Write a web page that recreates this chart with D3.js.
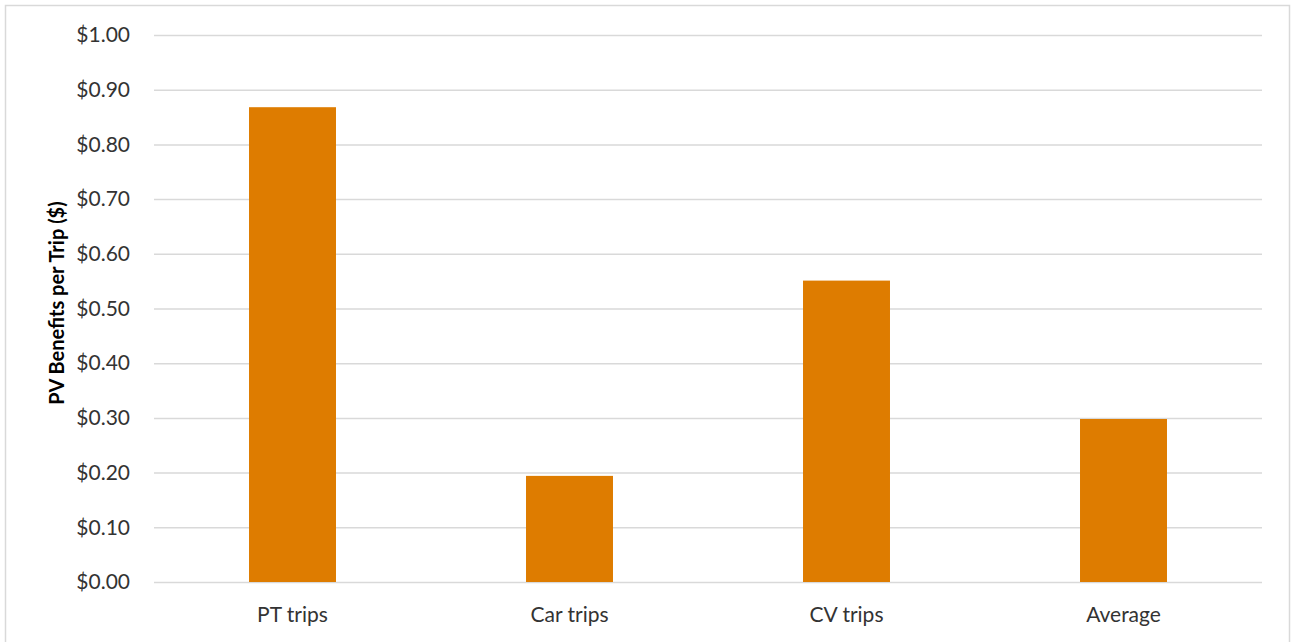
<!DOCTYPE html>
<html>
<head>
<meta charset="utf-8">
<script src="https://cdn.jsdelivr.net/npm/d3@7"></script>
<style>
  body { margin: 0; background: #fff; }
  text { font-family: Lato, "Open Sans", sans-serif; }
</style>
</head>
<body>
<div id="container"></div>
<script>
const categories = ["PT trips", "Car trips", "CV trips", "Average"];
const values = [0.868, 0.194, 0.551, 0.298];
const yTicks = [0, 0.1, 0.2, 0.3, 0.4, 0.5, 0.6, 0.7, 0.8, 0.9, 1.0];

const width = 1292, height = 642;
const margin = { top: 35, right: 30, bottom: 60, left: 154 };
const plotW = 1262 - margin.left;
const plotH = 582 - margin.top;

const svg = d3.select('#container')
  .append('svg')
  .attr('width', width)
  .attr('height', height);

// chart frame
svg.append('rect')
  .attr('x', 5.5).attr('y', 5.5)
  .attr('width', 1284).attr('height', 650)
  .attr('fill', 'none')
  .attr('stroke', '#d9d9d9')
  .attr('stroke-width', 1.5);

const g = svg.append('g')
  .attr('transform', `translate(${margin.left},${margin.top})`);

const xScale = d3.scaleBand()
  .domain(categories)
  .range([0, plotW])
  .paddingInner(0.686)
  .paddingOuter(0.343);

const yScale = d3.scaleLinear()
  .domain([0, 1])
  .range([plotH, 0]);

// gridlines
g.append('g')
  .attr('class', 'grid')
  .call(d3.axisLeft(yScale).tickValues(yTicks).tickSize(-plotW).tickFormat(''))
  .call(s => s.select('.domain').remove())
  .call(s => s.selectAll('line').attr('stroke', '#d9d9d9').attr('stroke-width', 1.5));

// y tick labels
g.append('g')
  .attr('class', 'y-axis')
  .call(d3.axisLeft(yScale).tickValues(yTicks).tickSize(0).tickPadding(24).tickFormat(d3.format('$.2f')))
  .call(s => s.select('.domain').remove())
  .call(s => s.selectAll('text')
    .style('font-size', '21px')
    .attr('fill', '#333'));

// bars
g.selectAll('.bar')
  .data(values)
  .enter()
  .append('rect')
  .attr('class', 'bar')
  .attr('x', (d, i) => xScale(categories[i]))
  .attr('y', d => yScale(d))
  .attr('width', xScale.bandwidth())
  .attr('height', d => plotH - yScale(d))
  .attr('fill', '#de7c00');

// x labels
g.append('g')
  .attr('class', 'x-axis')
  .attr('transform', `translate(0,${plotH})`)
  .call(d3.axisBottom(xScale).tickSize(0).tickPadding(25))
  .call(s => s.select('.domain').remove())
  .call(s => s.selectAll('text')
    .style('font-size', '21px')
    .attr('fill', '#333'));

// axis title
svg.append('text')
  .attr('transform', 'translate(64,303) rotate(-90)')
  .attr('text-anchor', 'middle')
  .style('font-size', '20px')
  .style('font-weight', 'bold')
  .attr('fill', '#000')
  .text('PV Benefits per Trip ($)');
</script>
</body>
</html>
